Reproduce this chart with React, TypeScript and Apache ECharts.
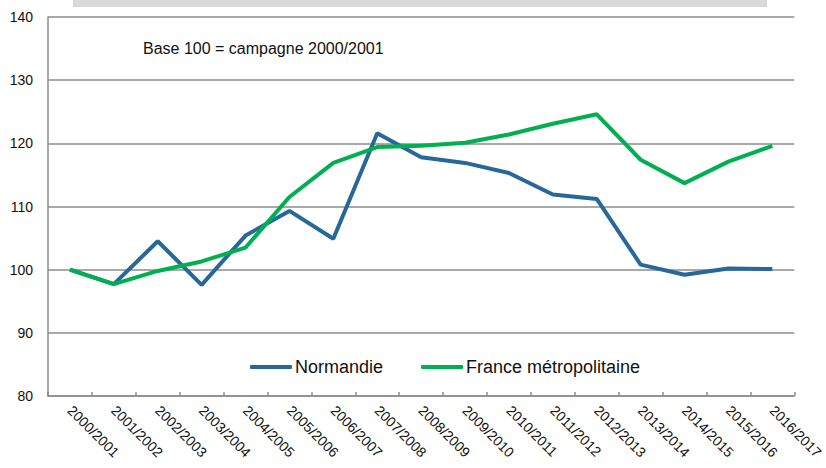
import React, { useEffect, useRef } from "react";
import * as echarts from "echarts";

const categories = [
  "2000/2001", "2001/2002", "2002/2003", "2003/2004", "2004/2005", "2005/2006",
  "2006/2007", "2007/2008", "2008/2009", "2009/2010", "2010/2011", "2011/2012",
  "2012/2013", "2013/2014", "2014/2015", "2015/2016", "2016/2017",
];

const normandie = [100, 97.7, 104.5, 97.6, 105.4, 109.3, 104.9, 121.6, 117.8, 116.9, 115.3, 111.9, 111.2, 100.8, 99.2, 100.2, 100.1];
const france = [100, 97.7, 99.8, 101.3, 103.5, 111.5, 116.9, 119.4, 119.6, 120.1, 121.4, 123.1, 124.6, 117.4, 113.7, 117.1, 119.6];

const seriesNames = ["Normandie", "France métropolitaine"];
const seriesColors = ["#27689A", "#00B050"];
const noteText = "Base 100 = campagne 2000/2001";

const FONT = "Liberation Sans, Arial, sans-serif";

export default function App() {
  const ref = useRef<HTMLDivElement>(null);

  useEffect(() => {
    if (!ref.current) return;
    const chart = echarts.init(ref.current, null, { renderer: "svg" });
    chart.setOption({
      animation: false,
      backgroundColor: "#ffffff",
      textStyle: { fontFamily: FONT },
      grid: { left: 48, right: 25, top: 17, bottom: 72, containLabel: false },
      legend: {
        left: 245,
        top: 353,
        itemGap: 38,
        itemWidth: 42,
        itemHeight: 4,
        icon: "roundRect",
        textStyle: { fontSize: 18, color: "#111111", fontFamily: FONT, padding: [0, 0, 0, -2] },
        data: seriesNames,
      },
      xAxis: {
        type: "category",
        data: categories,
        boundaryGap: true,
        axisLine: { show: true, lineStyle: { color: "#8c8c8c", width: 1.5 } },
        axisTick: { show: true, inside: true, length: 4, lineStyle: { color: "#8c8c8c", width: 1.5 } },
        axisLabel: { rotate: -45, interval: 0, fontSize: 14, color: "#111111", margin: 12, fontFamily: FONT },
        splitLine: { show: false },
      },
      yAxis: {
        type: "value",
        min: 80,
        max: 140,
        interval: 10,
        axisLine: { show: true, lineStyle: { color: "#8c8c8c", width: 1.5 } },
        axisTick: { show: false },
        axisLabel: { fontSize: 14, color: "#111111", margin: 15, fontFamily: FONT },
        splitLine: { show: true, lineStyle: { color: "#8c8c8c", width: 1.5 } },
      },
      graphic: [
        {
          type: "rect",
          shape: { x: 73, y: 0, width: 694, height: 7 },
          style: { fill: "#d9d9d9" },
          silent: true,
        },
        {
          type: "text",
          left: 143,
          top: 40,
          style: { text: noteText, fontSize: 16, fill: "#111111", fontFamily: FONT },
          silent: true,
        },
      ],
      series: [
        {
          name: seriesNames[0],
          type: "line",
          data: normandie,
          symbol: "none",
          color: seriesColors[0],
          lineStyle: { width: 4, color: seriesColors[0] },
        },
        {
          name: seriesNames[1],
          type: "line",
          data: france,
          symbol: "none",
          color: seriesColors[1],
          lineStyle: { width: 4, color: seriesColors[1] },
        },
      ],
    });
    return () => chart.dispose();
  }, []);

  return (
    <div
      ref={ref}
      style={{ position: "absolute", left: 0, top: 0, width: 826, height: 468 }}
    />
  );
}
